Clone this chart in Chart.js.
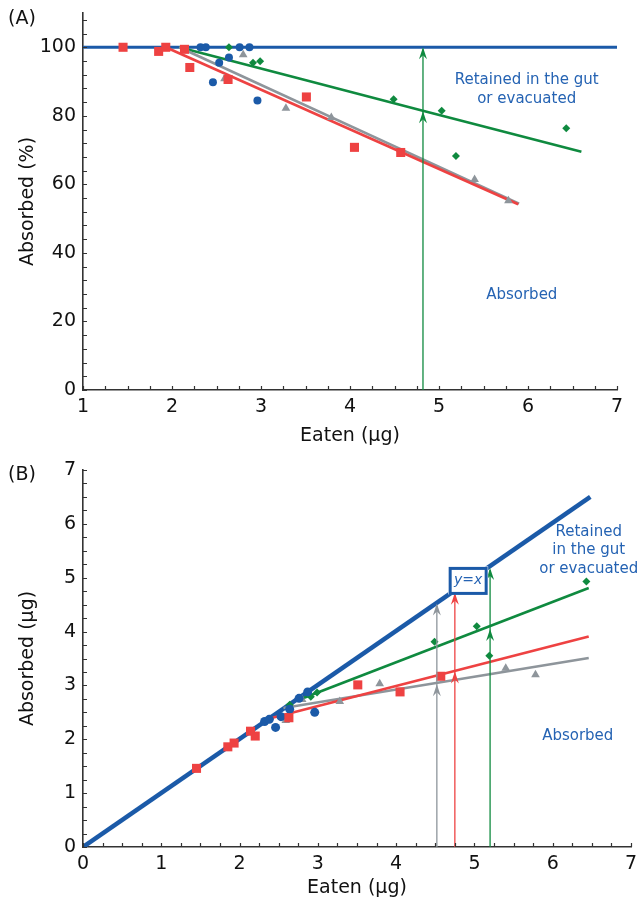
<!DOCTYPE html>
<html>
<head>
<meta charset="utf-8">
<script src="https://cdn.jsdelivr.net/npm/chart.js@4.4.1/dist/chart.umd.min.js"></script>
<style>
  html, body { margin: 0; padding: 0; background: #fff; }
  #wrap { position: relative; width: 639px; height: 909px; }
  .panel { position: absolute; left: 0; width: 639px; }
</style>
</head>
<body>
<div id="wrap">
  <div class="panel" style="top:0;height:450px"><canvas id="chartA"></canvas></div>
  <div class="panel" style="top:450px;height:459px"><canvas id="chartB"></canvas></div>
</div>
<script>
// eaten amounts (µg), same animals in both panels
const redEaten   = [1.45, 1.85, 1.93, 2.14, 2.20, 2.63, 3.51, 4.05, 4.57];
const blueEaten  = [2.32, 2.38, 2.76, 2.87, 2.64, 2.53, 2.46, 2.96];
const greenEaten = [2.64, 2.91, 2.99, 4.49, 5.03, 5.19, 6.43];
const grayEaten  = [2.80, 2.59, 3.28, 3.79, 5.40, 5.78];

// panel A: absorbed (%)
const redPct   = [100, 98.8, 100, 99.4, 94.1, 90.6, 85.5, 70.8, 69.3];
const bluePct  = [100, 100, 100, 100, 97.0, 95.5, 89.8, 84.5];
const greenPct = [100, 95.5, 95.9, 84.8, 81.5, 68.3, 76.4];
const grayPct  = [97.8, 90.8, 82.2, 79.5, 61.4, 55.2];

// panel B: absorbed (µg)
const redAbs   = [1.46, 1.86, 1.93, 2.15, 2.06, 2.40, 3.01, 2.88, 3.17];
const blueAbs  = [2.33, 2.37, 2.76, 2.88, 2.56, 2.42, 2.22, 2.50];
const greenAbs = [2.64, 2.79, 2.87, 3.81, 4.10, 3.55, 4.93];
const grayAbs  = [2.74, 2.35, 2.70, 3.03, 3.32, 3.20];

// fitted lines (x, y pairs)
const fullA_x = [1, 7],          fullA_y = [100, 100];
const redFitA_x = [1.93, 5.89],  redFitA_y = [100, 54.2];
const grayFitA_x = [2.08, 5.90], grayFitA_y = [100, 54.4];
const greenFitA_x = [2.08, 3.43, 4.84, 6.60], greenFitA_y = [100, 90.9, 81.3, 69.5];

const idB_x = [0, 6.48],         idB_y = [0, 6.50];
const redFitB_x = [2.37, 6.46],  redFitB_y = [2.38, 3.91];
const grayFitB_x = [2.56, 6.46], grayFitB_y = [2.58, 3.51];
const greenFitB_x = [2.75, 6.46], greenFitB_y = [2.73, 4.81];

// vertical arrows: x, top head, middle head
const arrowsA_x = [4.82], arrowsA_top = [100], arrowsA_mid = [81.3];
const arrowsB_x = [4.52, 4.75, 5.20], arrowsB_top = [4.52, 4.72, 5.18], arrowsB_mid = [3.02, 3.26, 4.05];

// tick labels
const xTicksA = [1, 2, 3, 4, 5, 6, 7];
const yTicksA = [0, 20, 40, 60, 80, 100];
const xTicksB = [0, 1, 2, 3, 4, 5, 6, 7];
const yTicksB = [0, 1, 2, 3, 4, 5, 6, 7];

const BLUE = "#1b5aa8";
const BLUE_TXT = "#2563b3";
const RED = "#ee4242";
const GREEN = "#0f8a3f";
const GRAY = "#8e959b";
const AXIS = "#333333";

Chart.defaults.font.family = "'DejaVu Sans', sans-serif";
Chart.defaults.color = "#111";

function pts(xs, ys) {
  const out = [];
  for (let i = 0; i < xs.length; i++) out.push({ x: xs[i], y: ys[i] });
  return out;
}

function lineDs(xs, ys, color, width, order) {
  return {
    data: pts(xs, ys), showLine: true, borderColor: color, borderWidth: width,
    pointRadius: 0, fill: false, order: order
  };
}

function markDs(xs, ys, color, style, radius) {
  return {
    data: pts(xs, ys), showLine: false, pointStyle: style, pointRadius: radius,
    backgroundColor: color, borderColor: color, borderWidth: 0, order: 1
  };
}

// inward minor/major tick marks
function ticksPlugin(stepX, stepY) {
  return {
    id: "inTicks",
    afterDraw(chart) {
      const ctx = chart.ctx, a = chart.chartArea;
      const xs = chart.scales.x, ys = chart.scales.y;
      ctx.save();
      ctx.strokeStyle = AXIS;
      ctx.lineWidth = 1.2;
      ctx.beginPath();
      for (let v = xs.min; v <= xs.max + 1e-9; v += stepX) {
        const p = Math.round(xs.getPixelForValue(v)) + 0.5;
        ctx.moveTo(p, a.bottom);
        ctx.lineTo(p, a.bottom - 4);
      }
      for (let v = ys.min; v <= ys.max + 1e-9; v += stepY) {
        const p = Math.round(ys.getPixelForValue(v)) + 0.5;
        ctx.moveTo(a.left, p);
        ctx.lineTo(a.left + 4, p);
      }
      ctx.stroke();
      ctx.restore();
    }
  };
}

function arrowHead(ctx, x, y) {
  ctx.beginPath();
  ctx.moveTo(x, y);
  ctx.lineTo(x - 4, y + 12);
  ctx.lineTo(x, y + 8);
  ctx.lineTo(x + 4, y + 12);
  ctx.closePath();
  ctx.fill();
}

function arrowsPlugin(xsArr, topArr, midArr, colors) {
  return {
    id: "arrows",
    afterDatasetsDraw(chart) {
      const ctx = chart.ctx;
      const xs = chart.scales.x, ys = chart.scales.y;
      ctx.save();
      for (let i = 0; i < xsArr.length; i++) {
        const px = xs.getPixelForValue(xsArr[i]);
        const y0 = ys.getPixelForValue(ys.min);
        const yt = ys.getPixelForValue(topArr[i]);
        const ym = ys.getPixelForValue(midArr[i]);
        ctx.strokeStyle = colors[i];
        ctx.fillStyle = colors[i];
        ctx.lineWidth = 1.3;
        ctx.beginPath();
        ctx.moveTo(px, y0);
        ctx.lineTo(px, yt + 2);
        ctx.stroke();
        arrowHead(ctx, px, yt);
        arrowHead(ctx, px, ym);
      }
      ctx.restore();
    }
  };
}

function textPlugin(items, panelLabel, extra) {
  return {
    id: "texts",
    afterDraw(chart) {
      const ctx = chart.ctx;
      const xs = chart.scales.x, ys = chart.scales.y;
      ctx.save();
      if (extra) extra(chart, ctx);
      ctx.textAlign = "center";
      ctx.textBaseline = "middle";
      ctx.fillStyle = BLUE_TXT;
      ctx.font = "15px 'DejaVu Sans', sans-serif";
      items.forEach(function (t) {
        ctx.fillText(t.text, xs.getPixelForValue(t.x), ys.getPixelForValue(t.y));
      });
      ctx.fillStyle = "#111";
      ctx.textAlign = "left";
      ctx.font = "19px 'DejaVu Sans', sans-serif";
      ctx.fillText(panelLabel.text, panelLabel.left, panelLabel.top);
      ctx.restore();
    }
  };
}

function axes(xMin, xMax, yMin, yMax, xTicks, yTicks, yTitle, xTitlePad) {
  return {
    x: {
      type: "linear", min: xMin, max: xMax,
      afterBuildTicks: function (s) { s.ticks = xTicks.map(function (v) { return { value: v }; }); },
      afterFit: function (s) { s.height = xTitlePad.h; s.paddingLeft = 0; s.paddingRight = 0; },
      grid: { display: false, drawTicks: false },
      border: { display: true, color: AXIS, width: 1.6 },
      ticks: { font: { size: 19 }, padding: 6, maxRotation: 0, autoSkip: false },
      title: { display: true, text: "Eaten (µg)", font: { size: 19 }, padding: { top: 0, bottom: xTitlePad.b } }
    },
    y: {
      type: "linear", min: yMin, max: yMax,
      afterBuildTicks: function (s) { s.ticks = yTicks.map(function (v) { return { value: v }; }); },
      afterFit: function (s) { s.width = 83; s.paddingTop = 0; s.paddingBottom = 0; },
      grid: { display: false, drawTicks: false },
      border: { display: true, color: AXIS, width: 1.6 },
      ticks: { font: { size: 19 }, padding: 7, autoSkip: false },
      title: { display: true, text: yTitle, font: { size: 19 }, padding: { top: 17, bottom: 0 } }
    }
  };
}

const baseOpts = {
  responsive: true,
  maintainAspectRatio: false,
  animation: false,
  plugins: { legend: { display: false }, tooltip: { enabled: false } }
};

// ---------- Panel A ----------
new Chart(document.getElementById("chartA"), {
  type: "scatter",
  data: {
    datasets: [
      markDs(redEaten, redPct, RED, "rect", 6.4),
      markDs(blueEaten, bluePct, BLUE, "circle", 4),
      markDs(greenEaten, greenPct, GREEN, "rectRot", 4),
      markDs(grayEaten, grayPct, GRAY, "triangle", 5),
      lineDs(fullA_x, fullA_y, BLUE, 3, 3),
      lineDs(redFitA_x, redFitA_y, RED, 2.6, 2),
      lineDs(grayFitA_x, grayFitA_y, GRAY, 2.6, 2),
      lineDs(greenFitA_x, greenFitA_y, GREEN, 2.6, 2)
    ]
  },
  options: Object.assign({}, baseOpts, {
    layout: { padding: { left: 0, right: 22, top: 13, bottom: 0 } },
    scales: axes(1, 7, 0, 110, xTicksA, yTicksA, "Absorbed (%)", { h: 60, b: 3 })
  }),
  plugins: [
    ticksPlugin(0.25, 4),
    arrowsPlugin(arrowsA_x, arrowsA_top, arrowsA_mid, [GREEN]),
    textPlugin([
      { text: "Retained in the gut", x: 5.985, y: 90.4 },
      { text: "or evacuated", x: 5.985, y: 85.0 },
      { text: "Absorbed", x: 5.93, y: 27.7 }
    ], { text: "(A)", left: 8, top: 19 })
  ]
});

// ---------- Panel B ----------
function yxBox(chart, ctx) {
  const xs = chart.scales.x, ys = chart.scales.y;
  const cx = xs.getPixelForValue(4.92), cy = ys.getPixelForValue(4.95);
  ctx.fillStyle = "#fff";
  ctx.fillRect(cx - 20, cy - 14, 40, 28);
  ctx.strokeStyle = BLUE;
  ctx.lineWidth = 3;
  ctx.strokeRect(cx - 18, cy - 12, 36, 25);
  ctx.fillStyle = BLUE_TXT;
  ctx.textAlign = "center";
  ctx.textBaseline = "middle";
  ctx.font = "italic 14px 'DejaVu Sans', sans-serif";
  ctx.fillText("y=x", cx, cy);
}

new Chart(document.getElementById("chartB"), {
  type: "scatter",
  data: {
    datasets: [
      markDs(redEaten, redAbs, RED, "rect", 6.4),
      markDs(blueEaten, blueAbs, BLUE, "circle", 4.5),
      markDs(greenEaten, greenAbs, GREEN, "rectRot", 4),
      markDs(grayEaten, grayAbs, GRAY, "triangle", 5),
      lineDs(idB_x, idB_y, BLUE, 4.5, 3),
      lineDs(redFitB_x, redFitB_y, RED, 2.6, 2),
      lineDs(grayFitB_x, grayFitB_y, GRAY, 2.6, 2),
      lineDs(greenFitB_x, greenFitB_y, GREEN, 2.6, 2)
    ]
  },
  options: Object.assign({}, baseOpts, {
    layout: { padding: { left: 0, right: 8, top: 20, bottom: 0 } },
    scales: axes(0, 7, 0, 7, xTicksB, yTicksB, "Absorbed (µg)", { h: 62, b: 10 })
  }),
  plugins: [
    ticksPlugin(0.25, 0.25),
    arrowsPlugin(arrowsB_x, arrowsB_top, arrowsB_mid, [GRAY, RED, GREEN]),
    textPlugin([
      { text: "Retained", x: 6.46, y: 5.85 },
      { text: "in the gut", x: 6.46, y: 5.51 },
      { text: "or evacuated", x: 6.46, y: 5.16 },
      { text: "Absorbed", x: 6.32, y: 2.06 }
    ], { text: "(B)", left: 8, top: 25 }, yxBox)
  ]
});
</script>
</body>
</html>
